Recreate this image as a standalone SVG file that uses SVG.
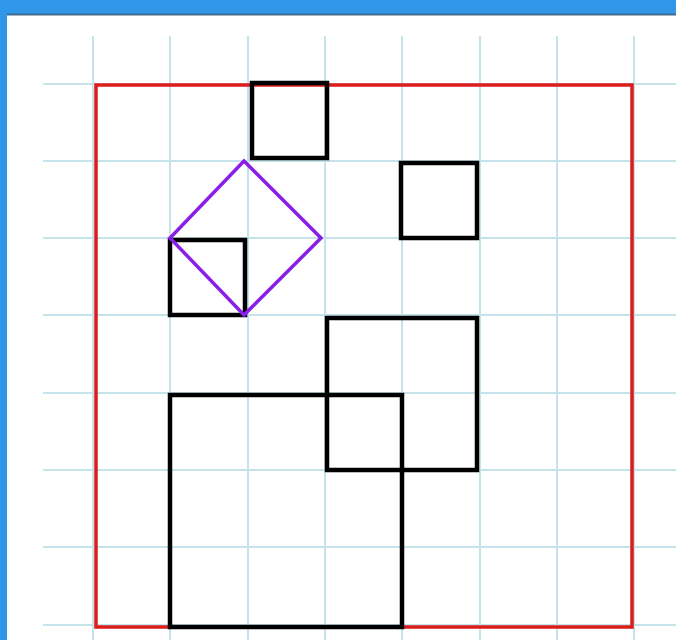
<svg xmlns="http://www.w3.org/2000/svg" width="676" height="640" viewBox="0 0 676 640">
<style>
.grid line{stroke:#c4e3ea;stroke-width:2}
.sq{fill:none;stroke:#000;stroke-width:4.5}
</style>
<rect x="0" y="0" width="676" height="640" fill="#ffffff"/>
<rect x="0" y="0" width="676" height="14" fill="#2f96e8"/>
<rect x="0" y="0" width="7" height="640" fill="#2f96e8"/>
<line x1="7" y1="14.5" x2="676" y2="14.5" stroke="#3f6a8e" stroke-width="2"/>
<g class="grid">
<line x1="93" y1="36" x2="93" y2="640"/>
<line x1="170" y1="36" x2="170" y2="640"/>
<line x1="248" y1="36" x2="248" y2="640"/>
<line x1="325" y1="36" x2="325" y2="640"/>
<line x1="402" y1="36" x2="402" y2="640"/>
<line x1="480" y1="36" x2="480" y2="640"/>
<line x1="557" y1="36" x2="557" y2="640"/>
<line x1="634" y1="36" x2="634" y2="640"/>
<line x1="43" y1="84" x2="676" y2="84"/>
<line x1="43" y1="161" x2="676" y2="161"/>
<line x1="43" y1="238" x2="676" y2="238"/>
<line x1="43" y1="315" x2="676" y2="315"/>
<line x1="43" y1="393" x2="676" y2="393"/>
<line x1="43" y1="470" x2="676" y2="470"/>
<line x1="43" y1="547" x2="676" y2="547"/>
<line x1="43" y1="625" x2="676" y2="625"/>
</g>
<rect x="96" y="85" width="536" height="542" fill="none" stroke="#dd1c1c" stroke-width="3.5"/>
<g id="sq1"><rect class="sq" x="252" y="83" width="75" height="75"/></g>
<g id="sq2"><rect class="sq" x="401" y="163" width="76" height="75"/></g>
<g id="sq3"><rect class="sq" x="170" y="240" width="75" height="75"/></g>
<g id="sq4"><rect class="sq" x="327" y="318" width="150" height="152"/></g>
<g id="sq5"><rect class="sq" x="170" y="395" width="232" height="232"/></g>
<g id="diamond"><polygon points="244,161 321,238 244,315 170,238" fill="none" stroke="#8a1ee8" stroke-width="3.5" stroke-linejoin="miter"/></g>
</svg>
